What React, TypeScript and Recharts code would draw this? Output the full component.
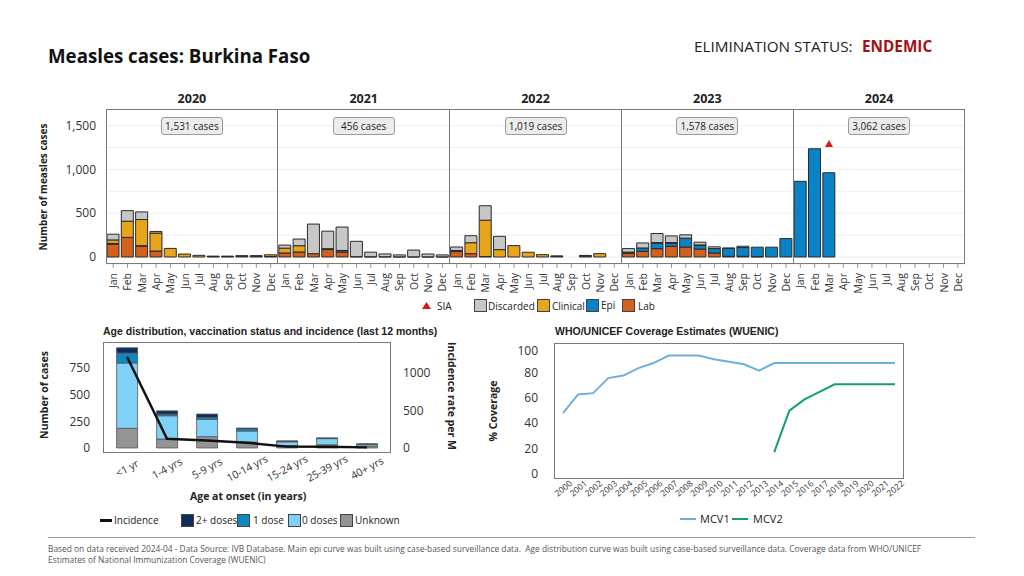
import React from "react";
import {
  ComposedChart,
  LineChart,
  Bar,
  Line,
  Scatter,
  XAxis,
  YAxis,
  CartesianGrid,
} from "recharts";

const FONT = "'Open Sans', 'Noto Sans', sans-serif";
const ARIAL = "'Liberation Sans', Arial, sans-serif";

// ---- main epi curve ----
const MONTHS = ["Jan", "Feb", "Mar", "Apr", "May", "Jun", "Jul", "Aug", "Sep", "Oct", "Nov", "Dec"];
const YEARS = [2020, 2021, 2022, 2023, 2024];
const CASE_TOTALS = [1531, 456, 1019, 1578, 3062];

// one row of 12 months per year
const LAB = [
  145, 224, 125, 68, 0, 0, 0, 5, 5, 8, 8, 5,
  46, 57, 38, 85, 57, 4, 3, 3, 2, 2, 2, 2,
  62, 38, 5, 0, 0, 0, 0, 8, 0, 10, 0, 0,
  40, 65, 95, 122, 114, 91, 46, 8, 8, 4, 0, 0,
  0, 0, 0, 0, 0, 0, 0, 0, 0, 0, 0, 0,
];
const EPI = [
  10, 0, 4, 0, 0, 0, 0, 0, 0, 0, 0, 0,
  0, 0, 0, 10, 18, 0, 0, 0, 0, 0, 0, 0,
  0, 0, 0, 0, 0, 0, 0, 0, 0, 0, 0, 0,
  16, 38, 62, 34, 97, 41, 50, 90, 100, 108, 112, 210,
  864, 1236, 962, 0, 0, 0, 0, 0, 0, 0, 0, 0,
];
const CLINICAL = [
  40, 185, 299, 205, 98, 34, 19, 5, 5, 7, 7, 20,
  55, 72, 0, 0, 0, 0, 0, 0, 0, 0, 0, 0,
  12, 125, 415, 84, 130, 54, 27, 3, 0, 8, 38, 0,
  0, 0, 8, 9, 4, 6, 0, 0, 0, 0, 0, 0,
  0, 0, 0, 0, 0, 0, 0, 0, 0, 0, 0, 0,
];
const DISCARDED = [
  65, 120, 87, 19, 0, 0, 0, 0, 0, 0, 0, 0,
  35, 76, 338, 200, 267, 175, 52, 32, 22, 77, 32, 22,
  40, 80, 165, 152, 0, 0, 0, 0, 0, 0, 0, 0,
  40, 57, 103, 76, 38, 31, 20, 5, 15, 0, 0, 0,
  0, 0, 0, 0, 0, 0, 0, 0, 0, 0, 0, 0,
];
// SIA marker (2024 Mar)
const SIA = [
  null, null, null, null, null, null, null, null, null, null, null, null,
  null, null, null, null, null, null, null, null, null, null, null, null,
  null, null, null, null, null, null, null, null, null, null, null, null,
  null, null, null, null, null, null, null, null, null, null, null, null,
  null, null, 1290, null, null, null, null, null, null, null, null, null,
];
const EPI_TICKS = [0, 250, 500, 750, 1000, 1250, 1500];

// ---- age distribution ----
const AGE_GROUPS = ["<1 yr", "1-4 yrs", "5-9 yrs", "10-14 yrs", "15-24 yrs", "25-39 yrs", "40+ yrs"];
const AGE_UNKNOWN = [184, 84, 106, 55, 22, 30, 18];
const AGE_ZERO = [612, 218, 161, 104, 36, 58, 17];
const AGE_ONE = [94, 15, 19, 21, 5, 3, 1];
const AGE_TWO_PLUS = [49, 31, 32, 7, 3, 3, 1];
const INCIDENCE = [1217, 124, 100, 70, 18, 15, 8];

// ---- WUENIC ----
const COV_YEARS = [
  2000, 2001, 2002, 2003, 2004, 2005, 2006, 2007, 2008, 2009, 2010, 2011,
  2012, 2013, 2014, 2015, 2016, 2017, 2018, 2019, 2020, 2021, 2022,
];
const MCV1 = [48, 63, 64, 76, 78, 84, 88, 94, 94, 94, 91, 89, 87, 82, 88, 88, 88, 88, 88, 88, 88, 88, 88];
const MCV2 = [null, null, null, null, null, null, null, null, null, null, null, null, null, null, 17, 50, 59, 65, 71, 71, 71, 71, 71];

const LAB_COLOR = "#d3601f";
const EPI_COLOR = "#0a83c6";
const CLIN_COLOR = "#e8a41b";
const DISC_COLOR = "#c7c7c7";
const TWO_COLOR = "#0e2d5c";
const ONE_COLOR = "#0f86c6";
const ZERO_COLOR = "#80d1f8";
const UNK_COLOR = "#949494";
const MCV1_COLOR = "#6cb0e0";
const MCV2_COLOR = "#14a06b";

const epiData = YEARS.flatMap((yr, yi) =>
  MONTHS.map((m, mi) => {
    const i = yi * 12 + mi;
    return {
      key: `${yr}-${m}`,
      lab: LAB[i],
      epi: EPI[i],
      clinical: CLINICAL[i],
      discarded: DISCARDED[i],
      sia: SIA[i],
    };
  })
);

const ageData = AGE_GROUPS.map((g, i) => ({
  group: g,
  unknown: AGE_UNKNOWN[i],
  zero: AGE_ZERO[i],
  one: AGE_ONE[i],
  two: AGE_TWO_PLUS[i],
  incidence: INCIDENCE[i],
}));

const covData = COV_YEARS.map((y, i) => ({ year: String(y), mcv1: MCV1[i], mcv2: MCV2[i] }));

// layout of the main plot
const PLOT_L = 106;
const PLOT_T = 109;
const PLOT_W = 859;
const PLOT_H = 155;
const YAXIS_W = 50;

function MonthTick({ x, y, payload }: any) {
  const label = String(payload.value).split("-")[1];
  return (
    <text
      x={x}
      y={y + 3}
      transform={`rotate(-90 ${x} ${y + 3})`}
      textAnchor="end"
      dominantBaseline="central"
      fontSize={10.5}
      fill="#333"
    >
      {label}
    </text>
  );
}

function AgeTick({ x, y, payload }: any) {
  const ty = y + 7;
  return (
    <text
      x={x}
      y={ty}
      transform={`rotate(-28 ${x} ${ty})`}
      textAnchor="middle"
      dominantBaseline="central"
      fontSize={10.5}
      fill="#333"
    >
      {payload.value}
    </text>
  );
}

function YearTick({ x, y, payload }: any) {
  const ty = y + 9;
  return (
    <text
      x={x}
      y={ty}
      transform={`rotate(-40 ${x} ${ty})`}
      textAnchor="middle"
      dominantBaseline="central"
      fontSize={8.5}
      fill="#333"
    >
      {payload.value}
    </text>
  );
}

function SiaMarker(props: any) {
  const { cx, cy, payload } = props;
  if (!payload || payload.sia == null || !Number.isFinite(cx) || !Number.isFinite(cy)) return <g />;
  return <polygon points={`${cx},${cy - 4} ${cx + 4},${cy + 3} ${cx - 4},${cy + 3}`} fill="#e3121b" />;
}

function VText({ cx, cy, w, text, size = 10, rot = -90 }: any) {
  return (
    <div
      style={{
        position: "absolute",
        left: cx - w / 2,
        top: cy - 8,
        width: w,
        height: 16,
        lineHeight: "16px",
        textAlign: "center",
        fontWeight: 700,
        fontSize: size,
        transform: `rotate(${rot}deg)`,
        whiteSpace: "nowrap",
      }}
    >
      {text}
    </div>
  );
}

function Box({ left, top, color, size = 13 }: any) {
  return (
    <div
      style={{
        position: "absolute",
        left,
        top,
        width: size,
        height: size,
        background: color,
        border: "1px solid #444",
        boxSizing: "border-box",
      }}
    />
  );
}

function Label({ left, cy, text, size = 10, bold = false, color = "#222", font }: any) {
  return (
    <div
      style={{
        position: "absolute",
        left,
        top: cy - 10,
        height: 20,
        lineHeight: "20px",
        fontSize: size,
        fontWeight: bold ? 700 : 400,
        color,
        whiteSpace: "nowrap",
        fontFamily: font,
      }}
    >
      {text}
    </div>
  );
}

export default function App() {
  const panelW = PLOT_W / YEARS.length;
  return (
    <div
      style={{
        position: "absolute",
        left: 0,
        top: 0,
        width: 1024,
        height: 576,
        background: "#fff",
        fontFamily: FONT,
        color: "#222",
        overflow: "hidden",
      }}
    >
      {/* header */}
      <Label left={48} cy={56} text="Measles cases: Burkina Faso" size={18.7} bold color="#111" />
      <Label left={694} cy={46} text="ELIMINATION STATUS:" size={15.3} />
      <Label left={862} cy={46} text="ENDEMIC" size={15.3} bold color="#a50f15" />

      <VText cx={43} cy={187} w={150} text="Number of measles cases" size={10} />

      <div style={{ position: "absolute", left: PLOT_L - YAXIS_W, top: PLOT_T }}>
        <ComposedChart
          width={YAXIS_W + PLOT_W}
          height={PLOT_H + 36}
          data={epiData}
          margin={{ top: 0, right: 0, bottom: 0, left: 0 }}
          barCategoryGap={1}
        >
          <CartesianGrid horizontal vertical={false} stroke="#efefef" />
          <XAxis
            dataKey="key"
            interval={0}
            height={36}
            axisLine={false}
            tickLine={{ stroke: "#999" }}
            tickSize={4}
            tick={<MonthTick />}
          />
          <YAxis
            width={YAXIS_W}
            domain={[-80, 1690]}
            allowDataOverflow
            ticks={EPI_TICKS}
            axisLine={false}
            tickLine={false}
            tickMargin={4}
            tickFormatter={(v: number) => (v % 500 === 0 ? v.toLocaleString("en-US") : "")}
            tick={{ fontSize: 12, fill: "#333" }}
          />
          <Bar dataKey="lab" stackId="a" fill={LAB_COLOR} stroke="#2a2a2a" strokeWidth={1} isAnimationActive={false} />
          <Bar dataKey="epi" stackId="a" fill={EPI_COLOR} stroke="#2a2a2a" strokeWidth={1} isAnimationActive={false} />
          <Bar dataKey="clinical" stackId="a" fill={CLIN_COLOR} stroke="#2a2a2a" strokeWidth={1} isAnimationActive={false} />
          <Bar dataKey="discarded" stackId="a" fill={DISC_COLOR} stroke="#2a2a2a" strokeWidth={1} isAnimationActive={false} />
          <Scatter dataKey="sia" shape={<SiaMarker />} isAnimationActive={false} />
        </ComposedChart>
      </div>

      {/* panel frame */}
      <div
        style={{
          position: "absolute",
          left: PLOT_L,
          top: PLOT_T,
          width: PLOT_W,
          height: PLOT_H,
          border: "1px solid #7a7a7a",
          boxSizing: "border-box",
          pointerEvents: "none",
        }}
      />
      {YEARS.slice(1).map((yr, i) => (
        <div
          key={yr}
          style={{
            position: "absolute",
            left: PLOT_L + (i + 1) * panelW - 0.5,
            top: PLOT_T,
            width: 1,
            height: PLOT_H,
            background: "#7a7a7a",
          }}
        />
      ))}

      {/* year headings + totals */}
      {YEARS.map((yr, i) => (
        <div key={yr}>
          <div
            style={{
              position: "absolute",
              left: PLOT_L + i * panelW,
              width: panelW,
              top: 90,
              height: 18,
              lineHeight: "18px",
              textAlign: "center",
              fontWeight: 700,
              fontSize: 12.5,
            }}
          >
            {yr}
          </div>
          <div
            style={{
              position: "absolute",
              left: PLOT_L + i * panelW + panelW / 2 - 31,
              top: 117,
              width: 62,
              height: 18,
              lineHeight: "16px",
              boxSizing: "border-box",
              border: "1px solid #9a9a9a",
              borderRadius: 3,
              background: "#ececec",
              textAlign: "center",
              fontSize: 10,
            }}
          >
            {CASE_TOTALS[i].toLocaleString("en-US")} cases
          </div>
        </div>
      ))}

      {/* main legend */}
      <svg style={{ position: "absolute", left: 422, top: 302 }} width={9} height={8}>
        <polygon points="4.5,0 9,7 0,7" fill="#e3121b" />
      </svg>
      <Label left={437} cy={306} text="SIA" />
      <Box left={474} top={299} color={DISC_COLOR} />
      <Label left={488} cy={306} text="Discarded" />
      <Box left={537} top={299} color={CLIN_COLOR} />
      <Label left={552} cy={306} text="Clinical" />
      <Box left={586} top={299} color={EPI_COLOR} />
      <Label left={601} cy={305} text="Epi" />
      <Box left={622} top={299} color={LAB_COLOR} />
      <Label left={638} cy={306} text="Lab" />

      {/* age distribution */}
      <Label
        left={103}
        cy={331}
        text="Age distribution, vaccination status and incidence (last 12 months)"
        size={10.5}
        bold
        font={ARIAL}
      />
      <VText cx={44} cy={395} w={120} text="Number of cases" size={10.5} />
      <VText cx={452} cy={396} w={130} text="Incidence rate per M" size={10.5} rot={90} />
      <div style={{ position: "absolute", left: 53, top: 342 }}>
        <ComposedChart
          width={50 + 288 + 40}
          height={111 + 40}
          data={ageData}
          margin={{ top: 0, right: 0, bottom: 0, left: 0 }}
          barCategoryGap="24%"
        >
          <XAxis
            dataKey="group"
            interval={0}
            height={40}
            axisLine={false}
            tickLine={false}
            padding={{ left: 4, right: 4 }}
            tick={<AgeTick />}
          />
          <YAxis
            yAxisId="cases"
            width={50}
            domain={[-47, 993]}
            allowDataOverflow
            ticks={[0, 250, 500, 750]}
            axisLine={false}
            tickLine={false}
            tickMargin={7}
            tick={{ fontSize: 12, fill: "#333" }}
          />
          <YAxis
            yAxisId="inc"
            orientation="right"
            width={40}
            domain={[-67, 1413]}
            allowDataOverflow
            ticks={[0, 500, 1000]}
            axisLine={false}
            tickLine={false}
            tickMargin={6}
            tick={{ fontSize: 12, fill: "#333" }}
          />
          <Bar yAxisId="cases" dataKey="unknown" stackId="b" fill={UNK_COLOR} stroke="#555" strokeWidth={0.8} isAnimationActive={false} />
          <Bar yAxisId="cases" dataKey="zero" stackId="b" fill={ZERO_COLOR} stroke="#555" strokeWidth={0.8} isAnimationActive={false} />
          <Bar yAxisId="cases" dataKey="one" stackId="b" fill={ONE_COLOR} stroke="#555" strokeWidth={0.8} isAnimationActive={false} />
          <Bar yAxisId="cases" dataKey="two" stackId="b" fill={TWO_COLOR} stroke="#555" strokeWidth={0.8} isAnimationActive={false} />
          <Line yAxisId="inc" dataKey="incidence" stroke="#111" strokeWidth={2.5} dot={false} isAnimationActive={false} />
        </ComposedChart>
      </div>
      <div
        style={{
          position: "absolute",
          left: 103,
          top: 342,
          width: 288,
          height: 111,
          border: "1px solid #7a7a7a",
          boxSizing: "border-box",
          pointerEvents: "none",
        }}
      />
      <Label left={190} cy={496} text="Age at onset (in years)" size={10.5} bold />

      <div style={{ position: "absolute", left: 100, top: 519, width: 12, height: 3, background: "#111" }} />
      <Label left={114} cy={520} text="Incidence" />
      <Box left={181} top={514} color={TWO_COLOR} />
      <Label left={196} cy={520} text="2+ doses" />
      <Box left={237} top={514} color={ONE_COLOR} />
      <Label left={253} cy={520} text="1 dose" />
      <Box left={288} top={514} color={ZERO_COLOR} />
      <Label left={302} cy={520} text="0 doses" />
      <Box left={340} top={514} color={UNK_COLOR} />
      <Label left={355} cy={520} text="Unknown" />

      {/* WUENIC */}
      <Label left={555} cy={331} text="WHO/UNICEF Coverage Estimates (WUENIC)" size={10.5} bold font={ARIAL} />
      <VText cx={493} cy={411} w={90} text="% Coverage" size={10.5} />
      <div style={{ position: "absolute", left: 504, top: 343 }}>
        <LineChart
          width={50 + 350 + 20}
          height={136 + 40}
          data={covData}
          margin={{ top: 0, right: 20, bottom: 0, left: 0 }}
        >
          <XAxis
            dataKey="year"
            interval={0}
            height={40}
            axisLine={false}
            tickLine={false}
            tickSize={0}
            tickMargin={0}
            padding={{ left: 9, right: 9 }}
            tick={<YearTick />}
          />
          <YAxis
            width={50}
            domain={[-4.5, 104]}
            allowDataOverflow
            ticks={[0, 20, 40, 60, 80, 100]}
            axisLine={false}
            tickLine={false}
            tickMargin={10}
            tick={{ fontSize: 12, fill: "#333" }}
          />
          <Line dataKey="mcv1" stroke={MCV1_COLOR} strokeWidth={2} dot={false} isAnimationActive={false} />
          <Line dataKey="mcv2" stroke={MCV2_COLOR} strokeWidth={2} dot={false} isAnimationActive={false} />
        </LineChart>
      </div>
      <div
        style={{
          position: "absolute",
          left: 554,
          top: 343,
          width: 350,
          height: 136,
          border: "1px solid #7a7a7a",
          boxSizing: "border-box",
          pointerEvents: "none",
        }}
      />
      <div style={{ position: "absolute", left: 680, top: 518, width: 16, height: 2, background: MCV1_COLOR }} />
      <Label left={700} cy={519} text="MCV1" size={11} />
      <div style={{ position: "absolute", left: 732, top: 518, width: 16, height: 2, background: MCV2_COLOR }} />
      <Label left={753} cy={519} text="MCV2" size={11} />

      {/* footer */}
      <div style={{ position: "absolute", left: 48, top: 537, width: 927, height: 1, background: "#9a9a9a" }} />
      <div
        style={{
          position: "absolute",
          left: 48,
          top: 543,
          width: 960,
          fontSize: 8.4,
          lineHeight: "11px",
          color: "#555",
          whiteSpace: "nowrap",
        }}
      >
        Based on data received 2024-04 - Data Source: IVB Database. Main epi curve was built using case-based surveillance data.&nbsp; Age distribution curve was built using case-based surveillance data. Coverage data from WHO/UNICEF
        <br />
        Estimates of National Immunization Coverage (WUENIC)
      </div>
    </div>
  );
}
